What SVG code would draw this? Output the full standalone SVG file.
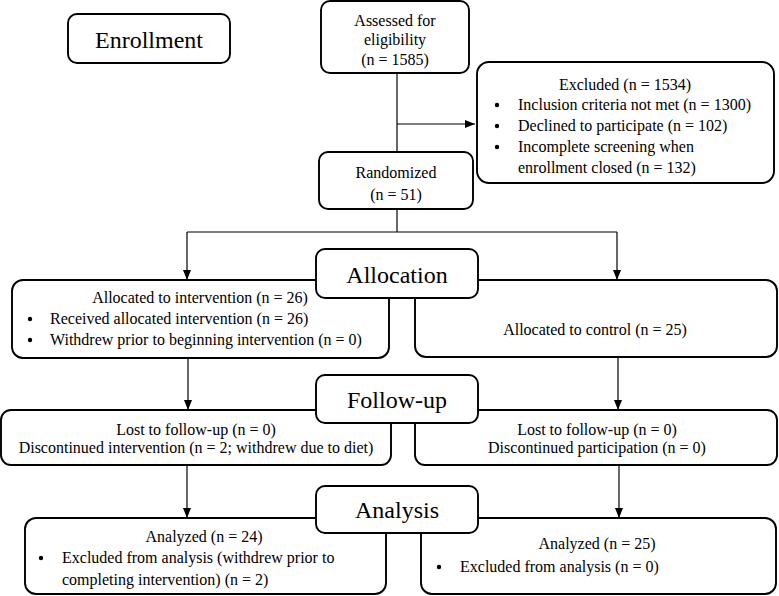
<svg xmlns="http://www.w3.org/2000/svg" width="779" height="596" viewBox="0 0 779 596">
<style>
.box{fill:#fff;stroke:#000;stroke-width:1.9}
.t{font-family:"Liberation Serif","Times New Roman",Tinos,"DejaVu Serif",serif;font-size:16px;fill:#000}
.c{text-anchor:middle}
.big{font-family:"Liberation Serif","Times New Roman",Tinos,"DejaVu Serif",serif;font-size:24px;fill:#000;text-anchor:middle}
.ln{fill:none;stroke:#000;stroke-width:1.2}
</style>
<defs>
<marker id="ah" markerWidth="10" markerHeight="8" refX="10" refY="4" orient="auto" markerUnits="userSpaceOnUse">
<path d="M0,0 L10,4 L0,8 Z" fill="#000"/>
</marker>
</defs>
<rect width="779" height="596" fill="#fff"/>
<g id="connectors">
<path class="ln" d="M397,73 V152"/>
<path class="ln" d="M397,124 H475" marker-end="url(#ah)"/>
<path class="ln" d="M397,209 V232"/>
<path class="ln" d="M187,232 H617"/>
<path class="ln" d="M187,232 V280" marker-end="url(#ah)"/>
<path class="ln" d="M617,232 V280" marker-end="url(#ah)"/>
<path class="ln" d="M188,358 V410" marker-end="url(#ah)"/>
<path class="ln" d="M618,357 V410" marker-end="url(#ah)"/>
<path class="ln" d="M187,465 V518" marker-end="url(#ah)"/>
<path class="ln" d="M619,465 V518" marker-end="url(#ah)"/>
</g>
<g id="enrollment">
<rect class="box" x="68" y="14" width="162" height="49" rx="9"/>
<text class="big" x="149" y="48">Enrollment</text>
</g>
<g id="assessed">
<rect class="box" x="321" y="1" width="148" height="72" rx="9"/>
<text class="t c" x="395" y="26">Assessed for</text>
<text class="t c" x="395" y="45">eligibility</text>
<text class="t c" x="395" y="65">(n = 1585)</text>
</g>
<g id="excluded">
<rect class="box" x="477" y="62" width="297" height="121" rx="12"/>
<text class="t c" x="625" y="90">Excluded (n = 1534)</text>
<circle cx="497" cy="105" r="2.2"/>
<circle cx="497" cy="126" r="2.2"/>
<circle cx="497" cy="147" r="2.2"/>
<text class="t" x="518" y="110">Inclusion criteria not met (n = 1300)</text>
<text class="t" x="518" y="131">Declined to participate (n = 102)</text>
<text class="t" x="518" y="152">Incomplete screening when</text>
<text class="t" x="518" y="173">enrollment closed (n = 132)</text>
</g>
<g id="randomized">
<rect class="box" x="319" y="152" width="154" height="57" rx="9"/>
<text class="t c" x="396" y="178">Randomized</text>
<text class="t c" x="396" y="200">(n = 51)</text>
</g>
<g id="alloc-intervention">
<rect class="box" x="12" y="280" width="377" height="78" rx="11"/>
<text class="t c" x="200" y="303">Allocated to intervention (n = 26)</text>
<circle cx="30" cy="319" r="2.2"/>
<circle cx="30" cy="340" r="2.2"/>
<text class="t" x="50" y="324">Received allocated intervention (n = 26)</text>
<text class="t" x="50" y="345">Withdrew prior to beginning intervention (n = 0)</text>
</g>
<g id="alloc-control">
<rect class="box" x="415" y="280" width="362" height="77" rx="11"/>
<text class="t c" x="595" y="335">Allocated to control (n = 25)</text>
</g>
<g id="allocation">
<rect class="box" x="316" y="249" width="162" height="49" rx="9"/>
<text class="big" x="397" y="283">Allocation</text>
</g>
<g id="followup-intervention">
<rect class="box" x="1" y="410" width="390" height="55" rx="10"/>
<text class="t c" x="196" y="435">Lost to follow-up (n = 0)</text>
<text class="t c" x="196" y="453">Discontinued intervention (n = 2; withdrew due to diet)</text>
</g>
<g id="followup-control">
<rect class="box" x="415" y="410" width="362" height="55" rx="10"/>
<text class="t c" x="597" y="435">Lost to follow-up (n = 0)</text>
<text class="t c" x="597" y="453">Discontinued participation (n = 0)</text>
</g>
<g id="followup">
<rect class="box" x="316" y="375" width="162" height="48" rx="9"/>
<text class="big" x="397" y="408">Follow-up</text>
</g>
<g id="analysis-intervention">
<rect class="box" x="25" y="518" width="361" height="76" rx="11"/>
<text class="t c" x="204" y="542">Analyzed (n = 24)</text>
<circle cx="41" cy="558" r="2.2"/>
<text class="t" x="62" y="563">Excluded from analysis (withdrew prior to</text>
<text class="t" x="62" y="585">completing intervention) (n = 2)</text>
</g>
<g id="analysis-control">
<rect class="box" x="421" y="518" width="355" height="76" rx="11"/>
<text class="t c" x="597" y="549">Analyzed (n = 25)</text>
<circle cx="439" cy="567" r="2.2"/>
<text class="t" x="460" y="572">Excluded from analysis (n = 0)</text>
</g>
<g id="analysis">
<rect class="box" x="316" y="486" width="162" height="47" rx="9"/>
<text class="big" x="397" y="518">Analysis</text>
</g>
</svg>
